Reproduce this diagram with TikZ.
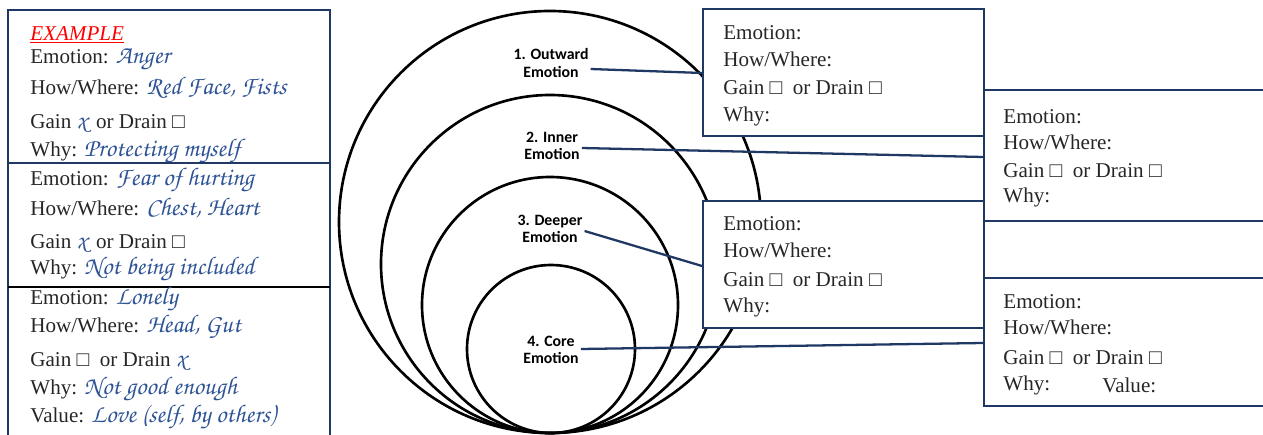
\documentclass[tikz,border=0pt]{standalone}
\usepackage[T1]{fontenc}
\usepackage{fontspec}
\setmainfont{Liberation Serif}
\newfontfamily\lblfont{Carlito}
\definecolor{navy}{HTML}{1F3864}
\definecolor{handblue}{HTML}{2F5496}
\definecolor{txtgray}{HTML}{262626}
\definecolor{exred}{HTML}{FF0000}
\newcommand\hw[1]{{\fontencoding{T1}\fontfamily{pzc}\fontseries{mb}\fontshape{it}\fontsize{14.5}{16}\selectfont\color{handblue}#1}}
\tikzset{
  ln/.style={anchor=west, inner sep=0pt, text=txtgray, font=\fontsize{12}{14}\selectfont},
  lbl/.style={align=center, inner sep=1pt, font=\lblfont\bfseries\fontsize{9}{9.8}\selectfont},
  ring/.style={draw=black, line width=1.5pt},
  cbox/.style={draw=navy, line width=1.3pt, fill=white, inner sep=0pt},
  conn/.style={draw=navy, line width=1.3pt},
}
\begin{document}
\begin{tikzpicture}[x=0.02cm, y=-0.02cm]
\useasboundingbox (0,0) rectangle (1263,435);
% circles
\node[ring, circle, minimum size=422*0.02cm] (c1) at (550,222) {};
\node[ring, circle, minimum size=338*0.02cm] (c2) at (550,264) {};
\node[ring, circle, minimum size=256*0.02cm] (c3) at (550,305) {};
\node[ring, circle, minimum size=168*0.02cm] (c4) at (551,349) {};
% left example box
\draw[navy, line width=1.3pt] (8,10) rectangle (330,445);
\draw[navy, line width=1.3pt] (8,163) -- (330,163);
\draw[black, line width=1.3pt] (8,287) -- (330,287);
\node[ln, text=exred, font=\fontsize{12}{14}\selectfont\itshape] (ex) at (30,35) {\underline{EXAMPLE}};
\node[ln] (a1) at (30,60) {Emotion: \hw{Anger}};
\node[ln] (a2) at (30,88) {How/Where: \hw{Red Face, Fists}};
\node[ln] (a3) at (30,124) {Gain \hw{x}\ \,or Drain □};
\node[ln] (a4) at (30,151) {Why: \hw{Protecting myself}};
\node[ln] (b1) at (30,180) {Emotion: \hw{Fear of hurting}};
\node[ln] (b2) at (30,208) {How/Where: \hw{Chest, Heart}};
\node[ln] (b3) at (30,244) {Gain \hw{x}\ \,or Drain □};
\node[ln] (b4) at (30,269) {Why: \hw{Not being included}};
\node[ln] (d1) at (30,299) {Emotion: \hw{Lonely}};
\node[ln] (d2) at (30,327) {How/Where: \hw{Head, Gut}};
\node[ln] (d3) at (30,362) {Gain □~ or Drain \hw{x}};
\node[ln] (d4) at (30,389) {Why: \hw{Not good enough}};
\node[ln] (d5) at (30,417) {Value: \hw{Love (self, by others)}};
% right column boxes
\node[cbox, anchor=north west, minimum width=300*0.02cm, minimum height=131*0.02cm] (bx2) at (983,89) {};
\node[cbox, anchor=north west, minimum width=300*0.02cm, minimum height=128*0.02cm] (bx4) at (983,277) {};
\node[cbox, anchor=north west, minimum width=281*0.02cm, minimum height=127*0.02cm] (bx1) at (702,8) {};
\node[cbox, anchor=north west, minimum width=281*0.02cm, minimum height=127*0.02cm] (bx3) at (702,200) {};
% box texts
\node[ln] (p1) at (723,33) {Emotion:};
\node[ln] (p2) at (723,59) {How/Where:};
\node[ln] (p3) at (723,88) {Gain □~ or Drain □};
\node[ln] (p4) at (723,116) {Why:};
\node[ln] (q1) at (1003,117) {Emotion:};
\node[ln] (q2) at (1003,142) {How/Where:};
\node[ln] (q3) at (1003,171) {Gain □~ or Drain □};
\node[ln] (q4) at (1003,197) {Why:};
\node[ln] (r1) at (723,224) {Emotion:};
\node[ln] (r2) at (723,250) {How/Where:};
\node[ln] (r3) at (723,280) {Gain □~ or Drain □};
\node[ln] (r4) at (723,307) {Why:};
\node[ln] (s1) at (1003,302) {Emotion:};
\node[ln] (s2) at (1003,327) {How/Where:};
\node[ln] (s3) at (1003,358) {Gain □~ or Drain □};
\node[ln] (s4) at (1003,385) {Why:};
\node[ln] (s5) at (1102,385) {Value:};
% circle labels
\node[lbl] (l1) at (551,63) {1. Outward\\Emotion};
\node[lbl] (l2) at (552,146) {2. Inner\\Emotion};
\node[lbl] (l3) at (550,229) {3. Deeper\\Emotion};
\node[lbl] (l4) at (551,350) {4. Core\\Emotion};
% connectors
\coordinate (e1) at (702,73);
\coordinate (e2) at (983,157);
\coordinate (e3) at (702,266);
\coordinate (e4) at (983,343);
\draw[conn] (l1.east |- 0,69) -- (e1);
\draw[conn] (l2.east |- 0,148) -- (e2);
\draw[conn] (l3.east |- 0,231) -- (e3);
\draw[conn] (l4.east |- 0,349) -- (e4);
\end{tikzpicture}
\end{document}
